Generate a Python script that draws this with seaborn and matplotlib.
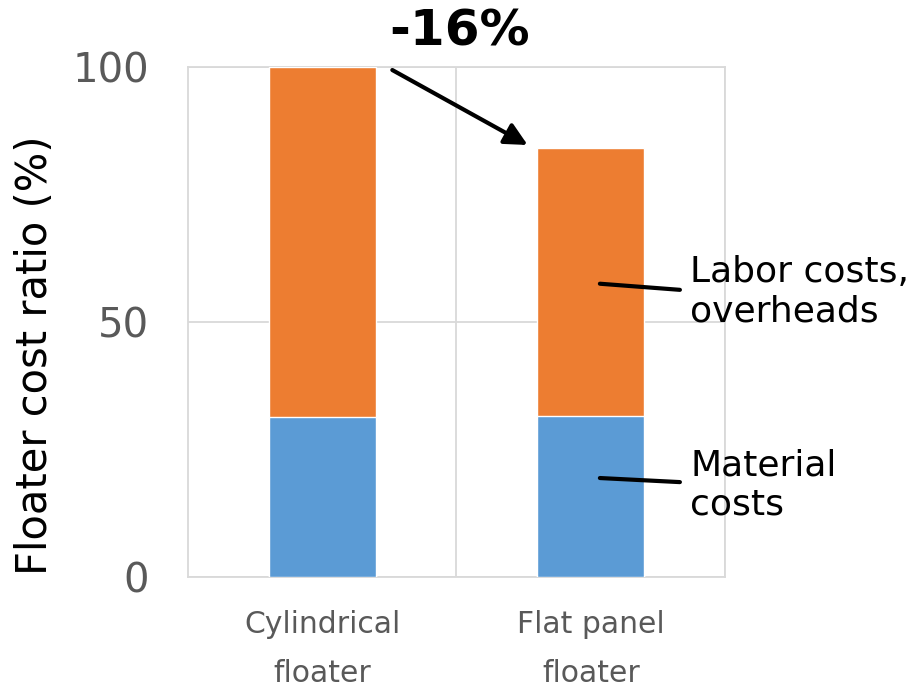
import pandas as pd
import matplotlib.pyplot as plt
import seaborn as sns

categories = ['Cylindrical\nfloater', 'Flat panel\nfloater']
material = [31.4, 31.6]
labor = [68.6, 52.6]
totals = [m + l for m, l in zip(material, labor)]

df = pd.DataFrame({'type': categories, 'material': material, 'total': totals})

sns.set_style('white')
plt.rcParams['font.family'] = ['DejaVu Sans']
plt.rcParams['text.color'] = 'black'

fig = plt.figure(figsize=(9.09, 6.89), dpi=100)
ax = fig.add_axes([0.2068, 0.1626, 0.5908, 0.7402])

sns.barplot(x='type', y='total', data=df, color='#ED7D31', width=0.4,
            saturation=1, ax=ax, zorder=3)
sns.barplot(x='type', y='material', data=df, color='#5B9BD5', width=0.4,
            saturation=1, ax=ax, zorder=3)

ax.set_xlim(-0.5, 1.5)
ax.set_ylim(0, 100)
ax.set_yticks([0, 50, 100])
ax.set_xticks([0.5, 1.5], minor=True)
ax.grid(True, axis='y', color='#d9d9d9', linewidth=1.3, zorder=0)
ax.grid(True, axis='x', which='minor', color='#d9d9d9', linewidth=1.3, zorder=0)
ax.grid(False, axis='x', which='major')
for s in ax.spines.values():
    s.set_color('#d9d9d9')
    s.set_linewidth(1.3)
ax.tick_params(axis='both', which='both', length=0)
ax.tick_params(axis='y', labelsize=29, labelcolor='#595959', pad=28)
ax.tick_params(axis='x', labelsize=21.5, labelcolor='#595959', pad=24)
for t in ax.get_xticklabels():
    t.set_linespacing(1.85)
ax.set_xlabel('')
ax.set_ylabel('Floater cost ratio (%)', fontsize=30, color='black',
              va='center')
ax.yaxis.set_label_coords(-0.285, 0.435)

# change annotation
ax.annotate('', xy=(0.765, 84.7), xytext=(0.261, 99.4),
            arrowprops=dict(arrowstyle='-|>', color='black', lw=3,
                            mutation_scale=34, shrinkA=0, shrinkB=0), zorder=5)
ax.text(0.51, 106.9, '-16%', fontsize=36, fontweight='bold', ha='center',
        va='center', clip_on=False)

# segment labels
ax.plot([1.034, 1.332], [57.5, 56.3], color='black', lw=3, zorder=5, clip_on=False)
ax.text(1.37, 55.9, 'Labor costs,\noverheads', fontsize=26, va='center',
        ha='left', linespacing=1.2, clip_on=False)
ax.plot([1.034, 1.332], [19.4, 18.6], color='black', lw=3, zorder=5, clip_on=False)
ax.text(1.37, 18.0, 'Material\ncosts', fontsize=26, va='center',
        ha='left', linespacing=1.2, clip_on=False)

plt.savefig('out.png', dpi=100)
